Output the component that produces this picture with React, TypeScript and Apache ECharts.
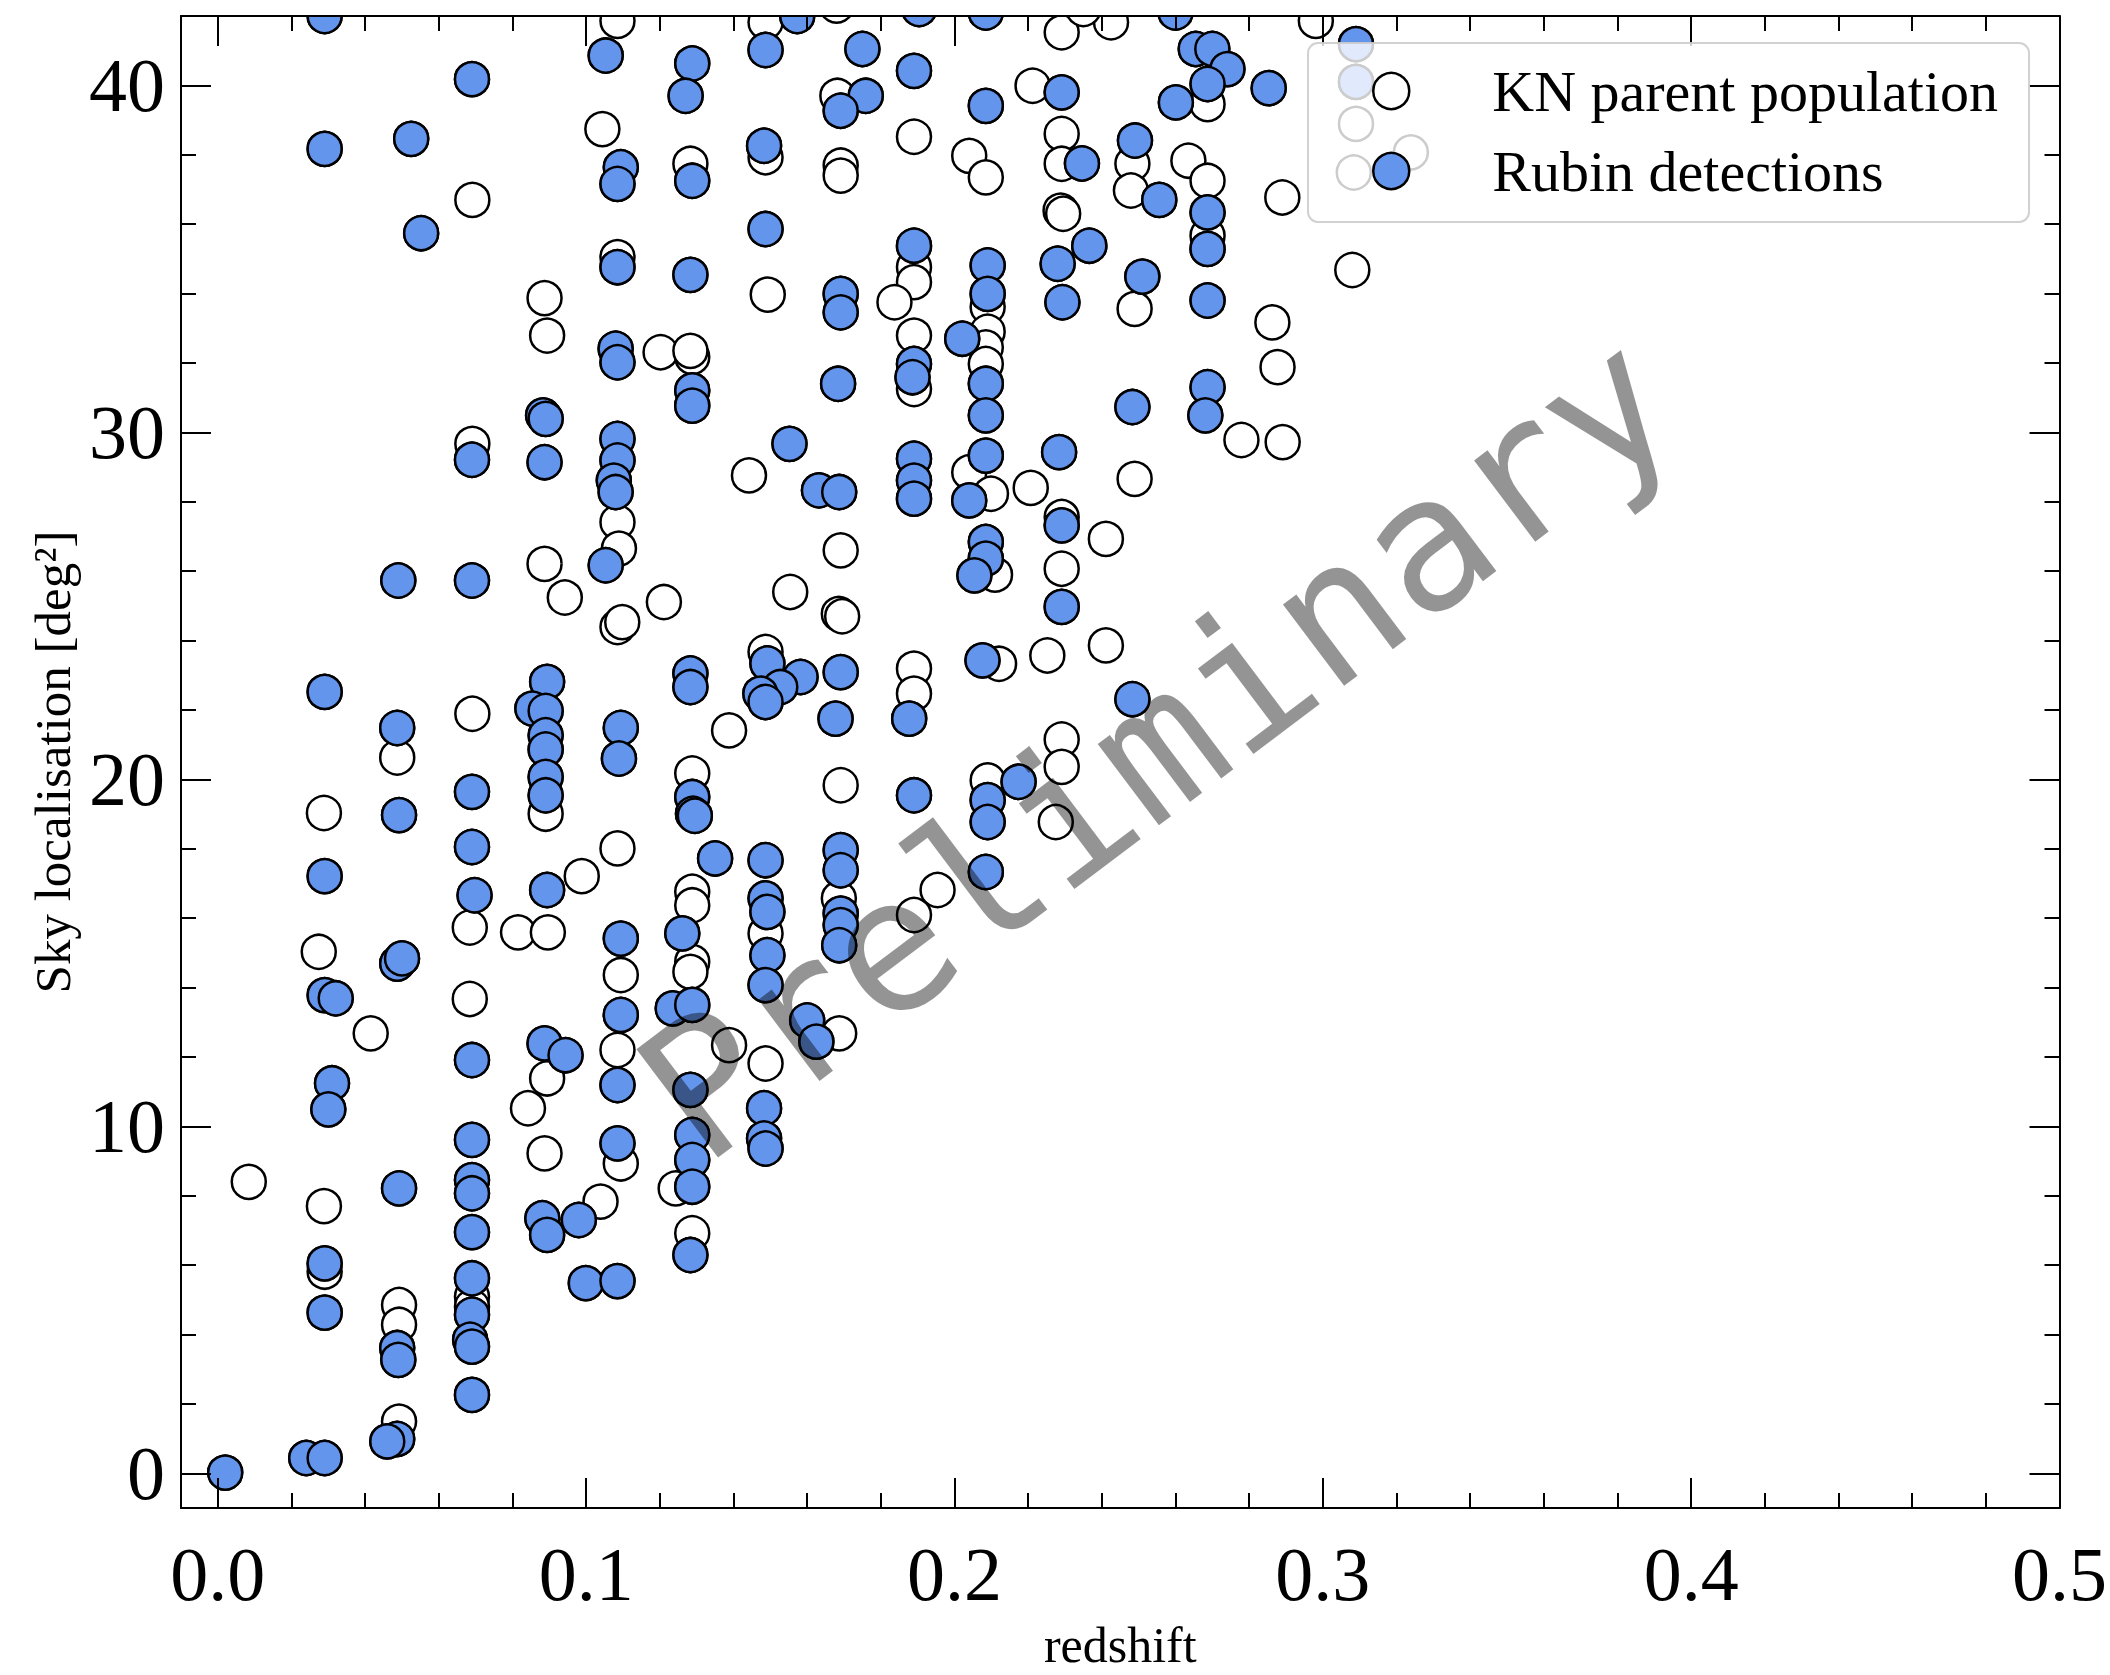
import React, { useEffect, useRef } from "react";
import * as echarts from "echarts";

// ---- axis ranges and ticks ----
const X_MIN = -0.01;
const X_MAX = 0.5;
const Y_MIN = -1;
const Y_MAX = 42;
const xMajorTicks = [0, 0.1, 0.2, 0.3, 0.4, 0.5];
const xMinorTicks = [0.02, 0.04, 0.06, 0.08, 0.12, 0.14, 0.16, 0.18, 0.22, 0.24, 0.26, 0.28, 0.32, 0.34, 0.36, 0.38, 0.42, 0.44, 0.46, 0.48];
const yMajorTicks = [0, 10, 20, 30, 40];
const yMinorTicks = [2, 4, 6, 8, 12, 14, 16, 18, 22, 24, 26, 28, 32, 34, 36, 38];

const seriesNames = ["KN parent population", "Rubin detections"];

// ---- parent population events not detected (open circles) ----
const undetected: number[][] = [
  [0.0084, 8.4], [0.0288, 19.03], [0.0274, 15.03], [0.0288, 7.7], [0.029, 5.81],
  [0.0415, 12.68], [0.0487, 20.63], [0.0492, 4.85], [0.0492, 4.28], [0.0492, 1.49],
  [0.0691, 36.7], [0.0691, 29.67], [0.0691, 21.89], [0.0684, 15.73], [0.0684, 13.67],
  [0.069, 5.09], [0.069, 4.8],
  [0.0887, 33.87], [0.0894, 32.79], [0.0887, 26.21], [0.0942, 25.24], [0.089, 19.01],
  [0.0988, 17.21], [0.0815, 15.59], [0.0896, 15.59], [0.0894, 11.38], [0.0842, 10.52], [0.0887, 9.22],
  [0.1085, 41.86], [0.1044, 38.74], [0.1085, 35.05], [0.1202, 32.31], [0.1085, 27.41],
  [0.1089, 26.65], [0.1211, 25.11], [0.1085, 24.39], [0.1098, 24.53], [0.1085, 18.01],
  [0.1094, 14.36], [0.1085, 12.2], [0.1094, 8.93], [0.1039, 7.83],
  [0.1283, 37.74], [0.1288, 32.17], [0.1283, 32.35], [0.1288, 20.17], [0.1288, 16.76],
  [0.1288, 16.37], [0.1288, 14.74], [0.1283, 14.45], [0.1243, 8.21], [0.1288, 6.92],
  [0.1388, 21.41], [0.1388, 12.34], [0.1442, 28.76],
  [0.1487, 41.82], [0.1487, 37.93], [0.1493, 33.97], [0.1554, 25.4], [0.1487, 23.67],
  [0.1487, 15.56], [0.1487, 11.81],
  [0.168, 42.3], [0.1682, 39.7], [0.1691, 37.69], [0.1691, 37.4], [0.1691, 26.6],
  [0.1686, 24.77], [0.1695, 24.7], [0.1691, 19.83], [0.1686, 16.57], [0.1687, 12.68],
  [0.189, 38.52], [0.189, 34.76], [0.189, 34.33], [0.1837, 33.75], [0.189, 32.79],
  [0.189, 31.25], [0.189, 23.19], [0.189, 22.47], [0.1954, 16.81], [0.189, 16.09],
  [0.204, 37.97], [0.2085, 37.35], [0.209, 33.61], [0.209, 32.9], [0.2085, 32.45],
  [0.2085, 31.97], [0.204, 28.85], [0.2099, 28.23], [0.211, 25.9], [0.2121, 23.33], [0.209, 19.97],
  [0.2291, 41.53], [0.2425, 41.82], [0.235, 42.2], [0.2212, 39.99], [0.2291, 38.6],
  [0.2291, 37.74], [0.2288, 36.39], [0.2295, 36.3], [0.2207, 28.4], [0.2291, 27.56],
  [0.2411, 26.93], [0.2291, 26.07], [0.2252, 23.57], [0.2411, 23.86], [0.2291, 21.15],
  [0.2291, 20.36], [0.2275, 18.77],
  [0.2483, 37.74], [0.2479, 36.97], [0.2489, 33.56], [0.2489, 28.66],
  [0.2635, 37.83], [0.2687, 39.46], [0.2687, 37.25], [0.2687, 35.67], [0.2779, 29.78],
  [0.289, 36.77], [0.2863, 33.17], [0.2877, 31.88], [0.2891, 29.72], [0.2981, 41.86],
  [0.309, 38.89], [0.3084, 37.49], [0.3239, 38.07], [0.308, 34.68],
];

// ---- Rubin detections (filled circles) ----
const detected: number[][] = [
  [0.002, 0.02], [0.024, 0.44], [0.029, 0.44], [0.029, 42.0], [0.029, 38.17],
  [0.029, 22.52], [0.029, 17.21], [0.029, 13.78], [0.032, 13.69], [0.031, 11.24],
  [0.03, 10.49], [0.029, 6.05], [0.029, 4.63],
  [0.0525, 38.46], [0.0552, 35.74], [0.049, 25.73], [0.0487, 21.48], [0.0492, 18.97],
  [0.0487, 14.69], [0.05, 14.84], [0.0492, 8.21], [0.0487, 3.61], [0.049, 3.27],
  [0.0487, 0.99], [0.046, 0.92],
  [0.069, 40.18], [0.069, 29.21], [0.069, 25.73], [0.069, 19.64], [0.069, 18.05],
  [0.0697, 16.66], [0.069, 11.91], [0.069, 9.61], [0.069, 8.45], [0.069, 8.07],
  [0.069, 6.95], [0.069, 5.62], [0.069, 4.57], [0.0685, 3.85], [0.069, 3.65], [0.069, 2.26],
  [0.0883, 30.49], [0.089, 30.39], [0.0887, 29.14], [0.0894, 22.81], [0.0854, 22.04],
  [0.089, 21.97], [0.089, 21.27], [0.089, 20.86], [0.089, 20.07], [0.089, 19.54],
  [0.0894, 16.81], [0.0887, 12.39], [0.0944, 12.05], [0.0881, 7.35], [0.0894, 6.87],
  [0.098, 7.3], [0.0999, 5.48],
  [0.1053, 40.86], [0.1094, 37.64], [0.1085, 37.16], [0.1085, 34.76], [0.108, 32.41],
  [0.1085, 32.02], [0.1085, 29.81], [0.1085, 29.19], [0.1075, 28.61], [0.108, 28.28],
  [0.1053, 26.17], [0.1094, 21.48], [0.1089, 20.6], [0.1094, 15.41], [0.1094, 13.21],
  [0.1085, 11.19], [0.1085, 9.51], [0.1085, 5.54],
  [0.1288, 40.63], [0.127, 39.7], [0.1288, 37.25], [0.1283, 34.54], [0.1288, 31.21],
  [0.1288, 30.77], [0.1283, 23.05], [0.1283, 22.66], [0.1288, 19.49], [0.129, 19.01],
  [0.1295, 18.95], [0.1261, 15.56], [0.1235, 13.4], [0.1288, 13.5], [0.1283, 11.05],
  [0.1288, 9.75], [0.1288, 9.03], [0.1288, 8.26], [0.1283, 6.29], [0.135, 17.72],
  [0.1573, 42.0], [0.1487, 41.02], [0.1483, 38.26], [0.1487, 35.86], [0.1552, 29.67],
  [0.1632, 28.33], [0.1492, 23.34], [0.1582, 22.95], [0.1527, 22.66], [0.1473, 22.47],
  [0.1487, 22.23], [0.1487, 17.67], [0.1487, 16.57], [0.1492, 16.18], [0.1492, 14.93],
  [0.1487, 14.07], [0.16, 13.05], [0.1625, 12.44], [0.1483, 10.52], [0.1483, 9.65], [0.1487, 9.36],
  [0.175, 41.05], [0.1759, 39.7], [0.1691, 39.27], [0.1691, 33.99], [0.1691, 33.46],
  [0.1684, 31.4], [0.1687, 28.28], [0.1691, 23.09], [0.1677, 21.75], [0.1691, 17.96],
  [0.1691, 17.38], [0.1691, 16.13], [0.1691, 15.8], [0.1687, 15.22],
  [0.1904, 42.2], [0.189, 40.42], [0.189, 35.38], [0.189, 31.97], [0.1886, 31.59],
  [0.189, 29.24], [0.189, 28.61], [0.189, 28.09], [0.1877, 21.75], [0.189, 19.54],
  [0.2085, 42.1], [0.2085, 39.41], [0.209, 34.81], [0.209, 33.99], [0.2021, 32.7],
  [0.2085, 31.4], [0.2085, 30.49], [0.2085, 29.33], [0.204, 28.04], [0.2085, 26.84],
  [0.2085, 26.36], [0.2054, 25.88], [0.2076, 23.43], [0.2174, 19.93], [0.209, 19.4],
  [0.209, 18.77], [0.2085, 17.33],
  [0.2291, 39.8], [0.2346, 37.75], [0.2366, 35.38], [0.228, 34.86], [0.2293, 33.75],
  [0.2284, 29.43], [0.2291, 27.32], [0.2291, 24.97],
  [0.249, 38.41], [0.2556, 36.7], [0.251, 34.49], [0.2483, 30.73], [0.2483, 22.31],
  [0.26, 42.1], [0.2655, 41.05], [0.27, 41.05], [0.2741, 40.47], [0.2687, 40.04],
  [0.2601, 39.51], [0.2853, 39.92], [0.2687, 36.34], [0.2687, 35.29], [0.2687, 33.8],
  [0.2687, 31.3], [0.2681, 30.49],
  [0.309, 41.19], [0.309, 40.1],
];

const SERIF = "'Liberation Serif', 'Times New Roman', serif";

function makeXAxis(position: "top" | "bottom", ticks: number[], len: number, labels: boolean, line: boolean) {
  return {
    type: "value",
    position,
    min: X_MIN,
    max: X_MAX,
    z: 5,
    axisLine: { show: line, onZero: false, lineStyle: { color: "#000", width: 2 } },
    axisTick: { show: true, inside: true, length: len, customValues: ticks, lineStyle: { color: "#000", width: 2 } },
    axisLabel: labels
      ? { show: true, customValues: xMajorTicks, margin: 28, color: "#000", fontFamily: SERIF, fontSize: 76,
          formatter: (v: number) => v.toFixed(1) }
      : { show: false },
    splitLine: { show: false },
    minorTick: { show: false },
    ...(labels
      ? { name: "redshift", nameLocation: "middle", nameGap: 112,
          nameTextStyle: { color: "#000", fontFamily: SERIF, fontSize: 50 } }
      : {}),
  };
}

function makeYAxis(position: "left" | "right", ticks: number[], len: number, labels: boolean, line: boolean) {
  return {
    type: "value",
    position,
    min: Y_MIN,
    max: Y_MAX,
    z: 5,
    axisLine: { show: line, onZero: false, lineStyle: { color: "#000", width: 2 } },
    axisTick: { show: true, inside: true, length: len, customValues: ticks, lineStyle: { color: "#000", width: 2 } },
    axisLabel: labels
      ? { show: true, customValues: yMajorTicks, margin: 16, color: "#000", fontFamily: SERIF, fontSize: 76,
          formatter: (v: number) => String(Math.round(v)) }
      : { show: false },
    splitLine: { show: false },
    minorTick: { show: false },
    ...(labels
      ? { name: "Sky localisation [deg²]", nameLocation: "middle", nameGap: 101,
          nameTextStyle: { color: "#000", fontFamily: SERIF, fontSize: 51 } }
      : {}),
  };
}

export default function App() {
  const ref = useRef<HTMLDivElement>(null);
  useEffect(() => {
    document.body.style.margin = "0";
    const chart = echarts.init(ref.current as HTMLDivElement, null, { renderer: "svg", width: 2110, height: 1675 });
    const option: any = {
      animation: false,
      backgroundColor: "#fff",
      grid: { left: 181, top: 16, width: 1880, height: 1494, containLabel: false },
      xAxis: [
        makeXAxis("bottom", xMajorTicks, 30, true, true),
        makeXAxis("bottom", xMinorTicks, 15, false, false),
        makeXAxis("top", xMajorTicks, 30, false, true),
        makeXAxis("top", xMinorTicks, 15, false, false),
      ],
      yAxis: [
        makeYAxis("left", yMajorTicks, 30, true, true),
        makeYAxis("left", yMinorTicks, 15, false, false),
        makeYAxis("right", yMajorTicks, 30, false, true),
        makeYAxis("right", yMinorTicks, 15, false, false),
      ],
      legend: {
        left: 1308,
        top: 43,
        orient: "vertical",
        z: 6,
        selectedMode: false,
        itemWidth: 36,
        itemHeight: 36,
        itemGap: 22,
        padding: [19, 31, 22, 64],
        backgroundColor: "rgba(255,255,255,0.8)",
        borderColor: "rgba(204,204,204,0.9)",
        borderWidth: 2,
        borderRadius: 10,
        textStyle: { color: "#000", fontFamily: SERIF, fontSize: 58, padding: [0, 0, 0, 78] },
        data: [
          { name: seriesNames[0], icon: "circle", itemStyle: { color: "#fff", borderColor: "#000", borderWidth: 2.5 } },
          { name: seriesNames[1], icon: "circle", itemStyle: { color: "#6495ED", borderColor: "#000", borderWidth: 2.5 } },
        ],
      },
      graphic: [
        { type: "rect", z: 4, silent: true, shape: { x: 0, y: 0, width: 2110, height: 15 }, style: { fill: "#fff" } },
        {
          type: "text",
          z: 10,
          silent: true,
          x: 1157,
          y: 746,
          rotation: (37 * Math.PI) / 180,
          style: {
            text: "Preliminary",
            fontFamily: "'DejaVu Sans Mono', monospace",
            fontSize: 186,
            fill: "rgba(0,0,0,0.42)",
            align: "center",
            verticalAlign: "middle",
            shadowBlur: 8,
            shadowColor: "rgba(0,0,0,0.25)",
            shadowOffsetX: 4,
            shadowOffsetY: 4,
          },
        },
      ],
      series: [
        {
          type: "scatter",
          name: seriesNames[0],
          xAxisIndex: 0,
          yAxisIndex: 0,
          data: [...undetected, ...detected],
          symbol: "circle",
          symbolSize: 34,
          clip: false,
          z: 2,
          itemStyle: { color: "#fff", borderColor: "#000", borderWidth: 2.5, opacity: 1 },
        },
        {
          type: "scatter",
          name: seriesNames[1],
          xAxisIndex: 0,
          yAxisIndex: 0,
          data: detected,
          symbol: "circle",
          symbolSize: 34,
          clip: false,
          z: 3,
          itemStyle: { color: "#6495ED", borderColor: "#000", borderWidth: 2.5, opacity: 1 },
        },
      ],
    };
    chart.setOption(option);
    return () => chart.dispose();
  }, []);
  return <div ref={ref} style={{ position: "absolute", left: 0, top: 0, width: 2110, height: 1675 }} />;
}
